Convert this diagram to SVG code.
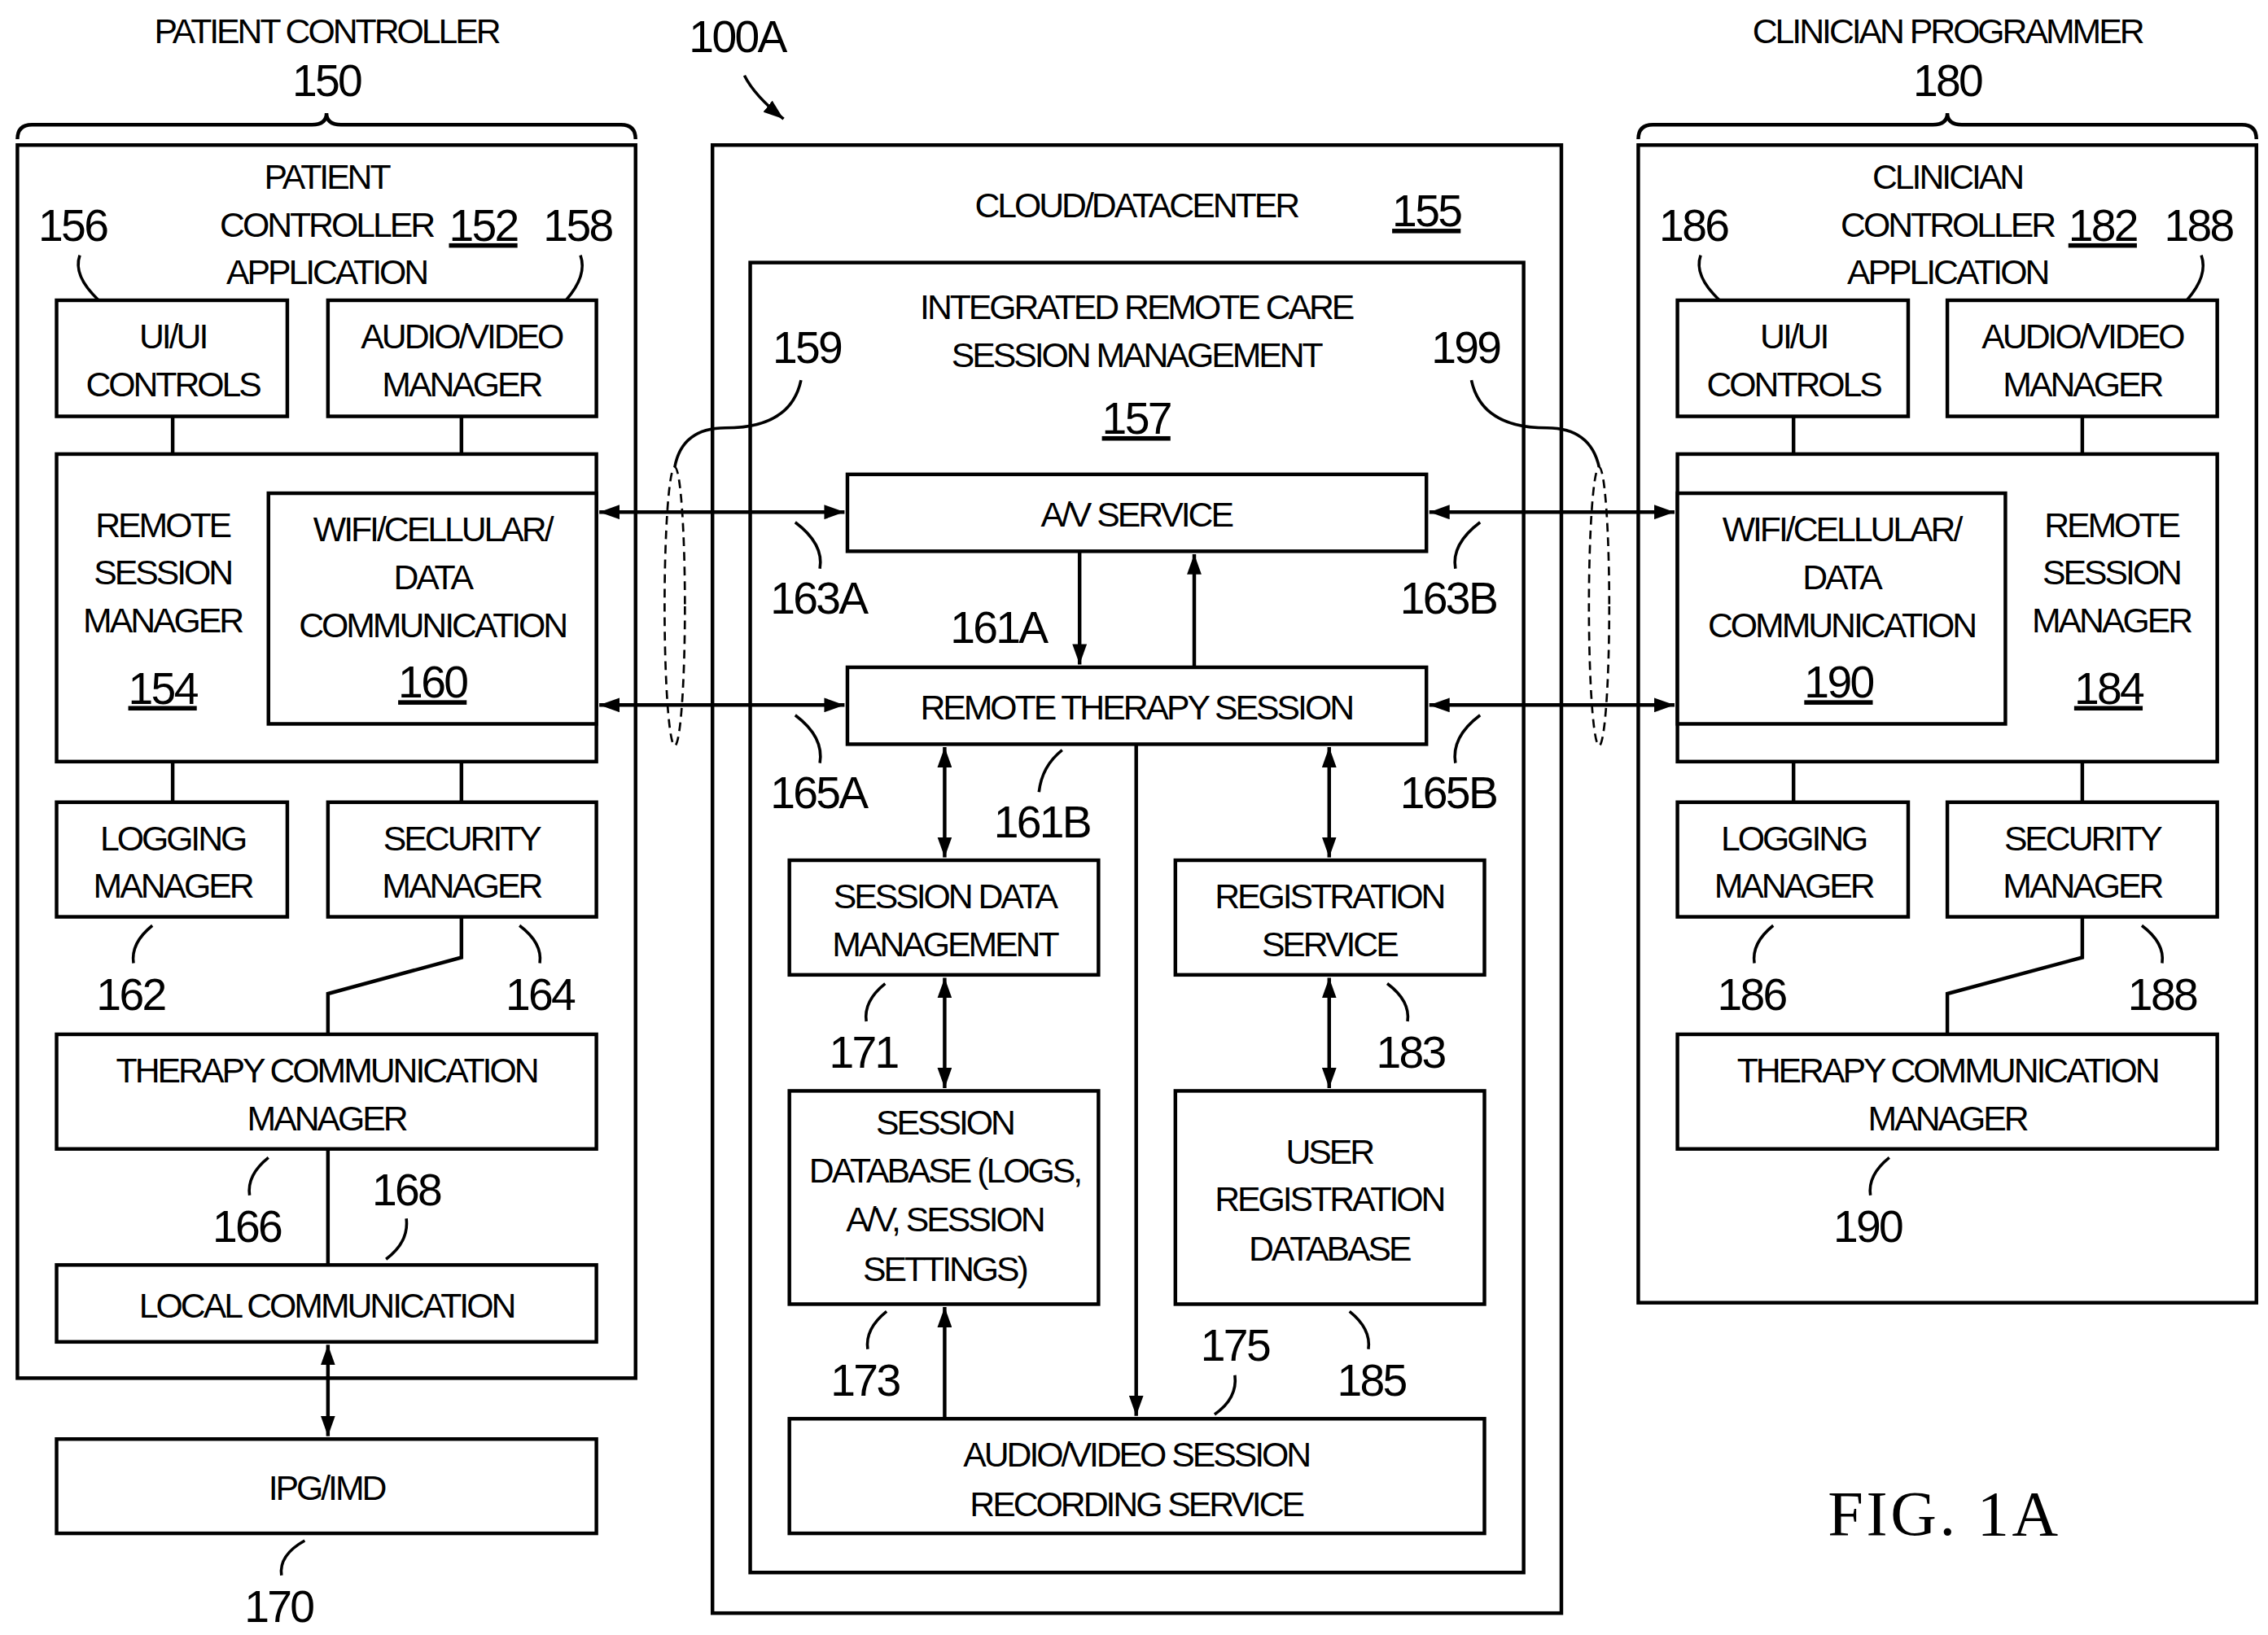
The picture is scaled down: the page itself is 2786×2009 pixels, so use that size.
<svg xmlns="http://www.w3.org/2000/svg" width="2786" height="2009" viewBox="0 0 2786 2009">
<defs>
<marker id="ah" viewBox="0 0 14 10" refX="14" refY="5" markerWidth="14" markerHeight="10" markerUnits="userSpaceOnUse" orient="auto-start-reverse"><path d="M0,0 L14,5 L0,10 z" fill="#000"/></marker>
<style>
rect{fill:#fff;stroke:#000;stroke-width:2.5}
.l{fill:none;stroke:#000;stroke-width:2.5}
.t{font-family:"Liberation Sans",Arial,sans-serif;font-size:24px;letter-spacing:-1.7px;text-anchor:middle}
.n{font-family:"Liberation Sans",Arial,sans-serif;font-size:31px;letter-spacing:-1.5px;text-anchor:middle}
.u{text-decoration:underline}
.a{fill:none;stroke:#000;stroke-width:2.5;marker-end:url(#ah)}
.b{fill:none;stroke:#000;stroke-width:2.5;marker-end:url(#ah);marker-start:url(#ah)}
.d{fill:none;stroke:#000;stroke-width:1.5;stroke-dasharray:6 4}
.ld{fill:none;stroke:#000;stroke-width:2}
</style>
</defs>
<rect x="0" y="0" width="2786" height="2009" style="stroke:none"/>
<g transform="scale(1.7825)">
<g id="patient">
<path class="l" d="M12,96 Q12,86 22,86 L215,86 Q225,86 225,78 Q225,86 235,86 L428,86 Q438,86 438,96"/>
<text class="t" x="225" y="30">PATIENT CONTROLLER</text>
<text class="n" x="225" y="66">150</text>
<rect x="12" y="100" width="426" height="850"/>
<text class="t" x="225" y="130">PATIENT</text>
<text class="t" x="225" y="163">CONTROLLER</text>
<text class="t" x="225" y="196">APPLICATION</text>
<text class="n u" x="333" y="166">152</text>
<text class="n" x="50" y="166">156</text><path class="ld" d="M55,176 Q50,190 68,207"/>
<text class="n" x="398" y="166">158</text><path class="ld" d="M400,176 Q405,190 390,207"/>
<g id="ui1"><rect x="39" y="207" width="159" height="80"/><text class="t" x="119" y="240">UI/UI</text><text class="t" x="119" y="273">CONTROLS</text></g>
<g id="av1"><rect x="226" y="207" width="185" height="80"/><text class="t" x="318" y="240">AUDIO/VIDEO</text><text class="t" x="318" y="273">MANAGER</text></g>
<g id="rsm1"><rect x="39" y="313" width="372" height="212"/>
<text class="t" x="112" y="370">REMOTE</text><text class="t" x="112" y="403">SESSION</text><text class="t" x="112" y="436">MANAGER</text><text class="n u" x="112" y="485">154</text></g>
<g id="wifi1"><rect x="185" y="340" width="226" height="159"/>
<text class="t" x="298" y="373">WIFI/CELLULAR/</text><text class="t" x="298" y="406">DATA</text><text class="t" x="298" y="439">COMMUNICATION</text><text class="n u" x="298" y="481">160</text></g>
<g id="log1"><rect x="39" y="553" width="159" height="79"/><text class="t" x="119" y="586">LOGGING</text><text class="t" x="119" y="619">MANAGER</text></g>
<g id="sec1"><rect x="226" y="553" width="185" height="79"/><text class="t" x="318" y="586">SECURITY</text><text class="t" x="318" y="619">MANAGER</text></g>
<text class="n" x="90" y="696">162</text><path class="ld" d="M92,664 Q90,650 105,638"/>
<text class="n" x="372" y="696">164</text><path class="ld" d="M372,664 Q374,650 358,638"/>
<g id="tcm1"><rect x="39" y="713" width="372" height="79"/><text class="t" x="225" y="746">THERAPY COMMUNICATION</text><text class="t" x="225" y="779">MANAGER</text></g>
<text class="n" x="170" y="856">166</text><path class="ld" d="M172,824 Q170,810 185,798"/>
<text class="n" x="280" y="831">168</text><path class="ld" d="M280,840 Q282,856 266,868"/>
<g id="local"><rect x="39" y="872" width="372" height="53"/><text class="t" x="225" y="908">LOCAL COMMUNICATION</text></g>
<g id="ipg"><rect x="39" y="992" width="372" height="65"/><text class="t" x="225" y="1034">IPG/IMD</text></g>
<text class="n" x="192" y="1118">170</text><path class="ld" d="M194,1086 Q192,1072 210,1062"/>
</g>
<g id="cloud">
<rect x="491" y="100" width="585" height="1012"/>
<text class="n" x="508" y="36">100A</text>
<path class="a" d="M513,52 Q520,66 540,82" style="stroke-width:2"/>
<text class="t" x="783" y="150">CLOUD/DATACENTER</text>
<text class="n u" x="983" y="156">155</text>
<rect x="517" y="181" width="533" height="903"/>
<text class="t" x="783" y="220">INTEGRATED REMOTE CARE</text>
<text class="t" x="783" y="253">SESSION MANAGEMENT</text>
<text class="n u" x="783" y="299">157</text>
<g id="avs"><rect x="584" y="327" width="399" height="53"/><text class="t" x="783" y="363">A/V SERVICE</text></g>
<g id="rts"><rect x="584" y="460" width="399" height="53"/><text class="t" x="783" y="496">REMOTE THERAPY SESSION</text></g>
<g id="sdm"><rect x="544" y="593" width="213" height="79"/><text class="t" x="651" y="626">SESSION DATA</text><text class="t" x="651" y="659">MANAGEMENT</text></g>
<g id="reg"><rect x="810" y="593" width="213" height="79"/><text class="t" x="916" y="626">REGISTRATION</text><text class="t" x="916" y="659">SERVICE</text></g>
<g id="sdb"><rect x="544" y="752" width="213" height="147"/><text class="t" x="651" y="782">SESSION</text><text class="t" x="651" y="815">DATABASE (LOGS,</text><text class="t" x="651" y="849">A/V, SESSION</text><text class="t" x="651" y="883">SETTINGS)</text></g>
<g id="urdb"><rect x="810" y="752" width="213" height="147"/><text class="t" x="916" y="802">USER</text><text class="t" x="916" y="835">REGISTRATION</text><text class="t" x="916" y="869">DATABASE</text></g>
<g id="rec"><rect x="544" y="978" width="479" height="79"/><text class="t" x="783" y="1011">AUDIO/VIDEO SESSION</text><text class="t" x="783" y="1045">RECORDING SERVICE</text></g>
<text class="n" x="556" y="250">159</text><path class="ld" d="M552,262 Q545,295 500,295 Q470,295 465,322"/>
<text class="n" x="1010" y="250">199</text><path class="ld" d="M1014,262 Q1021,295 1066,295 Q1096,295 1102,322"/>
<text class="n" x="564" y="423">163A</text><path class="ld" d="M565,392 Q568,375 548,360"/>
<text class="n" x="564" y="557">165A</text><path class="ld" d="M565,526 Q568,508 548,493"/>
<text class="n" x="998" y="423">163B</text><path class="ld" d="M1003,392 Q1000,375 1020,360"/>
<text class="n" x="998" y="557">165B</text><path class="ld" d="M1003,526 Q1000,508 1020,493"/>
<text class="n" x="688" y="443">161A</text>
<text class="n" x="718" y="577">161B</text><path class="ld" d="M716,546 Q718,528 732,517"/>
<text class="n" x="595" y="736">171</text><path class="ld" d="M597,704 Q595,690 610,678"/>
<text class="n" x="972" y="736">183</text><path class="ld" d="M970,704 Q972,690 956,678"/>
<text class="n" x="596" y="962">173</text><path class="ld" d="M598,930 Q596,916 611,904"/>
<text class="n" x="851" y="938">175</text><path class="ld" d="M851,948 Q853,964 837,975"/>
<text class="n" x="945" y="962">185</text><path class="ld" d="M943,930 Q945,916 930,904"/>
</g>
<g id="clinician">
<path class="l" d="M1129,96 Q1129,86 1139,86 L1332,86 Q1342,86 1342,78 Q1342,86 1352,86 L1545,86 Q1555,86 1555,96"/>
<text class="t" x="1342" y="30">CLINICIAN PROGRAMMER</text>
<text class="n" x="1342" y="66">180</text>
<rect x="1129" y="100" width="426" height="798"/>
<text class="t" x="1342" y="130">CLINICIAN</text>
<text class="t" x="1342" y="163">CONTROLLER</text>
<text class="t" x="1342" y="196">APPLICATION</text>
<text class="n u" x="1449" y="166">182</text>
<text class="n" x="1167" y="166">186</text><path class="ld" d="M1172,176 Q1167,190 1185,207"/>
<text class="n" x="1515" y="166">188</text><path class="ld" d="M1517,176 Q1522,190 1507,207"/>
<g id="ui2"><rect x="1156" y="207" width="159" height="80"/><text class="t" x="1236" y="240">UI/UI</text><text class="t" x="1236" y="273">CONTROLS</text></g>
<g id="av2"><rect x="1342" y="207" width="186" height="80"/><text class="t" x="1435" y="240">AUDIO/VIDEO</text><text class="t" x="1435" y="273">MANAGER</text></g>
<g id="rsm2"><rect x="1156" y="313" width="372" height="212"/>
<text class="t" x="1455" y="370">REMOTE</text><text class="t" x="1455" y="403">SESSION</text><text class="t" x="1455" y="436">MANAGER</text><text class="n u" x="1453" y="485">184</text></g>
<g id="wifi2"><rect x="1156" y="340" width="226" height="159"/>
<text class="t" x="1269" y="373">WIFI/CELLULAR/</text><text class="t" x="1269" y="406">DATA</text><text class="t" x="1269" y="439">COMMUNICATION</text><text class="n u" x="1267" y="481">190</text></g>
<g id="log2"><rect x="1156" y="553" width="159" height="79"/><text class="t" x="1236" y="586">LOGGING</text><text class="t" x="1236" y="619">MANAGER</text></g>
<g id="sec2"><rect x="1342" y="553" width="186" height="79"/><text class="t" x="1435" y="586">SECURITY</text><text class="t" x="1435" y="619">MANAGER</text></g>
<text class="n" x="1207" y="696">186</text><path class="ld" d="M1209,664 Q1207,650 1222,638"/>
<text class="n" x="1490" y="696">188</text><path class="ld" d="M1490,664 Q1492,650 1476,638"/>
<g id="tcm2"><rect x="1156" y="713" width="372" height="79"/><text class="t" x="1342" y="746">THERAPY COMMUNICATION</text><text class="t" x="1342" y="779">MANAGER</text></g>
<text class="n" x="1287" y="856">190</text><path class="ld" d="M1289,824 Q1287,810 1302,798"/>
</g>
<text x="1340" y="1058" style="font-family:'Liberation Serif',serif;font-size:44px;text-anchor:middle;letter-spacing:2px">FIG. 1A</text>
<g id="connectors">
<path class="l" d="M119,287V313M318,287V313M119,525V553M318,525V553M318,632V660L226,685V713M226,792V872"/>
<path class="l" d="M1236,287V313M1435,287V313M1236,525V553M1435,525V553M1435,632V660L1342,685V713"/>
<path class="b" d="M226,927V990"/>
<path class="b" d="M413,353H582"/><path class="b" d="M413,486H582"/>
<path class="b" d="M985,353H1154"/><path class="b" d="M985,486H1154"/>
<path class="a" d="M744,380V458"/><path class="a" d="M823,460V382"/>
<path class="b" d="M651,515V591"/><path class="b" d="M916,515V591"/>
<path class="b" d="M651,674V750"/><path class="b" d="M916,674V750"/>
<path class="a" d="M651,978V901"/><path class="a" d="M783,513V976"/>
<ellipse class="d" cx="465" cy="418" rx="7" ry="96"/>
<ellipse class="d" cx="1102" cy="418" rx="7" ry="96"/>
</g>
</g>
</svg>
